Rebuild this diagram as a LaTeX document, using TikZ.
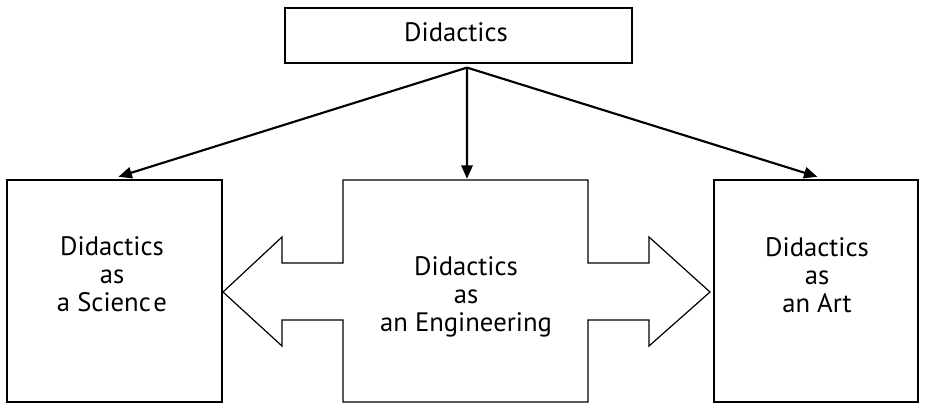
\documentclass[tikz,border=0pt]{standalone}
\usepackage{fontspec}
\setmainfont{PT Sans}
\usetikzlibrary{arrows.meta}

\begin{document}
\begin{tikzpicture}[x=0.75pt, y=-0.75pt, font=\fontsize{20}{21}\selectfont,
  box/.style={draw, line width=0.9pt, inner sep=0pt},
  txt/.style={align=center, inner sep=0pt},
  link/.style={line width=1.6pt, -{Triangle[length=10pt, width=8.5pt]}}]
  \useasboundingbox (0,0) rectangle (925,404);

  % boxes
  \node[box, minimum width=260.25pt, minimum height=41.25pt] (did) at (458.5,35.5) {};
  \node[box, minimum width=161.25pt, minimum height=166.5pt] (sci) at (114.5,291) {};
  \node[box, minimum width=153pt, minimum height=166.5pt] (art) at (816,291) {};

  % middle box with the two arrows
  \coordinate (engtop) at (467,180);
  \draw[line width=0.9pt, line join=miter] (343,180) -- (588,180) -- (588,263) -- (649,263)
    -- (649,237) -- (710,292) -- (649,346) -- (649,320) -- (588,320) -- (588,402)
    -- (343,402) -- (343,320) -- (282,320) -- (282,346) -- (223,292) -- (282,237)
    -- (282,263) -- (343,263) -- cycle;

  % texts (base = last line)
  \node[txt, anchor=base] (didtext) at (456,41) {Didactics};
  \node[txt, anchor=base] (scitext) at (112,311) {Didactics\\as\\a Scienc\hspace{2pt}e};
  \node[txt, anchor=base] (engtext) at (466,331) {Didactics\\as\\an Engineering};
  \node[txt, anchor=base] (arttext) at (817,312) {Didactics\\as\\an Art};

  % arrows
  \coordinate (start) at ([xshift=6.4pt, yshift=-3pt]did.south);
  \draw[link] (start) -- ([xshift=3pt,yshift=2pt]sci.north);
  \draw[link] (start) -- ([yshift=1pt]engtop);
  \draw[link] (start) -- ([xshift=1pt,yshift=2pt]art.north);
\end{tikzpicture}
\end{document}
